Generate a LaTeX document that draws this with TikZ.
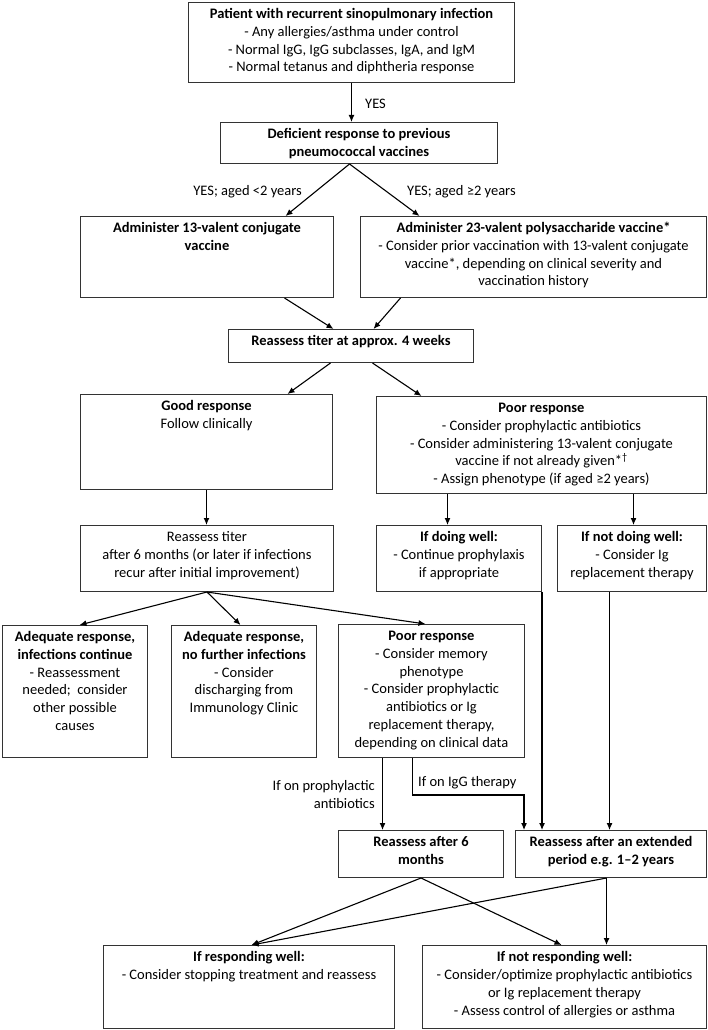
\documentclass[tikz,border=0pt]{standalone}
\usepackage{fontspec}
\setmainfont{Carlito}
\usetikzlibrary{arrows.meta}
\newcommand{\boxtxt}[3]{\parbox[c][#2][t]{#1}{\centering\vspace*{4pt}\strut #3}}

\begin{document}
\begin{tikzpicture}[x=1pt, y=-1pt, font=\fontsize{14.5}{17.7}\selectfont,
    box/.style={draw=black!80, line width=1pt, inner sep=0pt, anchor=north west},
    arr/.style={-{Latex[length=7pt,width=6pt]}, line width=1.1pt},
    lbl/.style={inner sep=0pt}]
  \useasboundingbox (0,0) rectangle (708,1030);
  % boxes
  \node[box] (pat) at (188,2) {\boxtxt{326pt}{80pt}{\textbf{Patient with recurrent sinopulmonary infection}\\- Any allergies/asthma under control\\- Normal IgG, IgG subclasses, IgA, and IgM\\- Normal tetanus and diphtheria response}};
  \node[box] (def) at (220,122) {\boxtxt{277pt}{41pt}{\textbf{Deficient response to previous\\pneumococcal vaccines}}};
  \node[box] (pcv) at (80,216) {\boxtxt{253pt}{81pt}{\textbf{Administer 13-valent conjugate\\vaccine}}};
  \node[box] (ppv) at (360,216) {\boxtxt{346pt}{81pt}{\textbf{Administer 23-valent polysaccharide vaccine*}\\- Consider prior vaccination with 13-valent conjugate\\vaccine*, depending on clinical severity and\\vaccination history}};
  \node[box] (re4) at (228,329) {\boxtxt{245pt}{33pt}{\textbf{Reassess titer at approx. 4 weeks}}};
  \node[box] (good) at (80,394) {\boxtxt{252pt}{95pt}{\textbf{Good response}\\Follow clinically}};
  \node[box] (poor) at (376,396) {\boxtxt{330pt}{97pt}{\textbf{Poor response}\\- Consider prophylactic antibiotics\\- Consider administering 13-valent conjugate\\vaccine if not already given*\textsuperscript{†}\\- Assign phenotype (if aged ≥2 years)}};
  \node[box] (re6) at (80,525) {\boxtxt{253pt}{66pt}{Reassess titer\\after 6 months (or later if infections\\recur after initial improvement)}};
  \node[box] (dw) at (376,525) {\boxtxt{165pt}{66pt}{\textbf{If doing well:}\\- Continue prophylaxis\\if appropriate}};
  \node[box] (ndw) at (557,525) {\boxtxt{149pt}{66pt}{\textbf{If not doing well:}\\- Consider Ig\\replacement therapy}};
  \node[box] (adq) at (2,625) {\boxtxt{145pt}{132pt}{\textbf{Adequate response,\\infections continue}\\- Reassessment\\needed;\ \ consider\\other possible\\causes}};
  \node[box] (adn) at (171,625) {\boxtxt{145pt}{132pt}{\textbf{Adequate response,\\no further infections}\\- Consider\\discharging from\\Immunology Clinic}};
  \node[box] (pr7) at (338,624) {\boxtxt{186pt}{133pt}{\textbf{Poor response}\\- Consider memory\\phenotype\\- Consider prophylactic\\antibiotics or Ig\\replacement therapy,\\depending on clinical data}};
  \node[box] (six) at (338,830) {\boxtxt{165pt}{47pt}{\textbf{Reassess after 6\\months}}};
  \node[box] (ext) at (515,830) {\boxtxt{191pt}{47pt}{\textbf{Reassess after an extended\\period e.g. 1--2 years}}};
  \node[box] (rw) at (103,945) {\boxtxt{291pt}{83pt}{\textbf{If responding well:}\\- Consider stopping treatment and reassess}};
  \node[box] (nrw) at (422,945) {\boxtxt{284pt}{83pt}{\textbf{If not responding well:}\\- Consider/optimize prophylactic antibiotics\\or Ig replacement therapy\\- Assess control of allergies or asthma}};
  % connectors
  \draw[arr] (pat.south) -- (pat.south |- def.north);
  \node[lbl, anchor=west] (yes) at (365,104) {YES};
  \draw[arr] ([xshift=-9.5pt]def.south) -- ([xshift=78.5pt]pcv.north);
  \draw[arr] ([xshift=-9.5pt]def.south) -- ([xshift=-114pt]ppv.north);
  \node[lbl, anchor=east] (ylt) at (302,192) {YES; aged <2 years};
  \node[lbl, anchor=west] (yge) at (407,192) {YES; aged ≥2 years};
  \draw[arr] ([xshift=77.5pt]pcv.south) -- ([xshift=-17.5pt]re4.north);
  \draw[arr] ([xshift=-133pt]ppv.south) -- ([xshift=22.5pt]re4.north);
  \draw[arr] ([xshift=-20.5pt]re4.south) -- ([xshift=81pt]good.north);
  \draw[arr] ([xshift=21.5pt]re4.south) -- ([xshift=-120pt]poor.north);
  \draw[arr] (good.south) -- (good.south |- re6.north);
  \draw[arr] ([xshift=-94pt]poor.south) -- ([xshift=-94pt]poor.south |- dw.north);
  \draw[arr] ([xshift=92pt]poor.south) -- ([xshift=92pt]poor.south |- ndw.north);
  \draw[arr] (re6.south) -- ([xshift=4.5pt]adq.north);
  \draw[arr] (re6.south) -- ([xshift=-3.5pt]adn.north);
  \draw[arr] (re6.south) -- ([xshift=-6pt]pr7.north);
  \draw[arr] ([xshift=-49pt]pr7.south) -- ([xshift=-49pt]pr7.south |- six.north);
  \node[lbl, anchor=east, align=right] (proph) at (375,794.5) {If on prophylactic\\antibiotics};
  \draw[arr] ([xshift=-19pt]pr7.south) -- ++(0,37) -| ([xshift=9pt]ext.north west);
  \node[lbl, anchor=west] (igg) at (418,783) {If on IgG therapy};
  \draw[arr] (dw.south east) -- (dw.south east |- ext.north);
  \draw[arr] ([xshift=-22.5pt]ndw.south) -- ([xshift=-22.5pt]ndw.south |- ext.north);
  \draw[arr] (six.south) -- ([xshift=2.5pt]rw.north);
  \draw[arr] (six.south) -- ([xshift=-3pt]nrw.north);
  \draw[arr] ([xshift=-4.5pt]ext.south) -- ([xshift=2.5pt]rw.north);
  \draw[arr] ([xshift=-4.5pt]ext.south) -- ([xshift=-4.5pt]ext.south |- nrw.north);
\end{tikzpicture}
\end{document}
